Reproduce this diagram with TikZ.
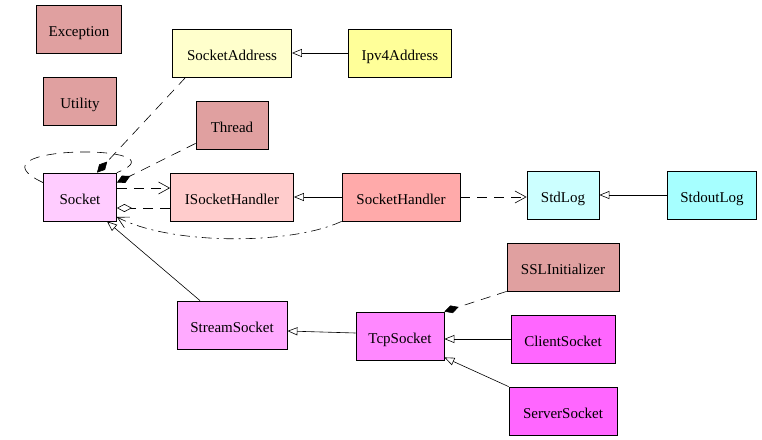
\documentclass[tikz,border=0pt]{standalone}
\usepackage{fontspec}
\setmainfont{Liberation Serif}
\usepackage{xcolor}
\usetikzlibrary{arrows.meta, positioning}

\definecolor{dusky}{HTML}{E0A0A0}
\definecolor{paleyellow}{HTML}{FFFFCC}
\definecolor{yellowish}{HTML}{FFFF99}
\definecolor{sockpink}{HTML}{FFCCFF}
\definecolor{handlerpink}{HTML}{FFCCCC}
\definecolor{handlerred}{HTML}{FFAAAA}
\definecolor{palecyan}{HTML}{CCFFFF}
\definecolor{cyanish}{HTML}{A6FFFF}
\definecolor{streampink}{HTML}{FFAAFF}
\definecolor{tcppink}{HTML}{FF88FF}
\definecolor{leafpink}{HTML}{FF66FF}

\begin{document}
\begin{tikzpicture}[
    x=1pt, y=-1pt,
    cls/.style={rectangle, draw, line width=0.8pt, inner sep=0pt, minimum height=48pt, text height=15pt, text depth=0pt, text centered, font=\fontsize{15}{17}\selectfont},
    inherit/.style={-{Triangle[open, length=10pt, width=8pt]}, line width=0.6pt},
    depend/.style={-{Straight Barb[length=11pt, width=12pt]}, line width=0.6pt, dash pattern=on 10pt off 7pt},
    compose/.style={-{Diamond[length=15pt, width=8pt]}, line width=0.6pt, dash pattern=on 10pt off 7pt},
    aggregate/.style={-{Diamond[open, length=15pt, width=8pt]}, line width=0.6pt, dash pattern=on 10pt off 7pt},
    callback/.style={-{Straight Barb[length=11pt, width=12pt]}, line width=0.6pt, dash pattern=on 10pt off 5pt on 2pt off 5pt}
]
\useasboundingbox[fill=white] (0,0) rectangle (762,439);

% Stand-alone helpers
\node[cls, fill=dusky, minimum width=85pt] (exc) at (79,29) {Exception};
\node[cls, fill=dusky, minimum width=73pt] (util) at (80,101) {Utility};

% Addresses and threads
\node[cls, fill=paleyellow, minimum width=119pt] (saddr) at (232,53) {SocketAddress};
\node[cls, fill=yellowish, minimum width=103pt] (ipv4) at (400,53) {Ipv4Address};
\node[cls, fill=dusky, minimum width=72pt] (thread) at (232,125) {Thread};

% Socket and handler row
\node[cls, fill=sockpink, minimum width=73pt] (sock) at (80,197) {Socket};
\node[cls, fill=handlerpink, minimum width=123pt] (isock) at (232,197) {ISocketHandler};
\node[cls, fill=handlerred, minimum width=118pt] (sockh) at (401,197) {SocketHandler};
\node[cls, fill=palecyan, minimum width=72pt] (stdlog) at (563,195) {StdLog};
\node[cls, fill=cyanish, minimum width=89pt] (stdout) at (712,195) {StdoutLog};

% Stream sockets
\node[cls, fill=dusky, minimum width=112pt] (ssl) at (563,267) {SSLInitializer};
\node[cls, fill=streampink, minimum width=110pt] (stream) at (232,325) {StreamSocket};
\node[cls, fill=tcppink, minimum width=88pt] (tcp) at (400,336) {TcpSocket};
\node[cls, fill=leafpink, minimum width=104pt] (client) at (563,339) {ClientSocket};
\node[cls, fill=leafpink, minimum width=108pt] (server) at (563,411) {ServerSocket};

% Inheritance
\draw[inherit] (ipv4.west) -- (saddr.east);
\draw[inherit] (sockh.west) -- (isock.east);
\draw[inherit] (stdout.west) -- (stdout.west -| stdlog.east);
\draw[inherit] ([xshift=-32pt]stream.north) -- ([xshift=27pt]sock.south);
\draw[inherit] ([yshift=3pt]tcp.west) -- ([yshift=-6pt]stream.east);
\draw[inherit] (client.west) -- (client.west -| tcp.east);
\draw[inherit] (server.north west) -- ([yshift=3pt]tcp.south east);

% Members and uses
\draw[compose] ([xshift=13.5pt]saddr.south west) -- ([xshift=17pt]sock.north);
\draw[compose] ([yshift=6pt]thread.south west) -- ([yshift=-10pt]sock.north east);
\draw[line width=0.6pt, dash pattern=on 10pt off 7pt] ([yshift=-10pt]sock.north west) .. controls +(-83,-39) and +(73,-29) .. (sock.north east);
\draw[depend] ([yshift=9pt]sock.east) -- ([yshift=9pt]isock.west);
\draw[aggregate] ([yshift=-11pt]isock.west) -- ([yshift=-11pt]sock.east);
\draw[callback] (sockh.south west) .. controls +(-52,24) and +(53,28) .. ([yshift=-20pt]sock.east);
\draw[depend] (sockh.east) -- (sockh.east -| stdlog.west);
\draw[compose] (ssl.south west) -- (tcp.north east);

\end{tikzpicture}
\end{document}
